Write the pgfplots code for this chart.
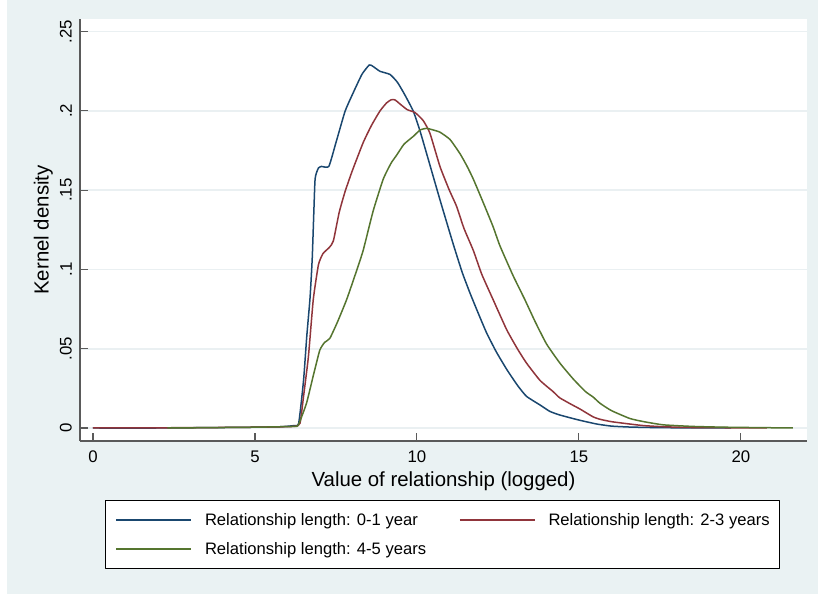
\documentclass[border=0pt]{standalone}
\usepackage{pgfplots}
\pgfplotsset{compat=1.18}
\usepackage{fontspec}
\setmainfont{Liberation Sans}
\definecolor{bgc}{HTML}{EAF2F3}
\definecolor{gridc}{HTML}{EAF0F2}
\definecolor{c1}{HTML}{1A476F}
\definecolor{c2}{HTML}{90353B}
\definecolor{c3}{HTML}{55752F}
\definecolor{axc}{HTML}{5A5A5A}
\begin{document}
\begin{tikzpicture}[x=1bp,y=1bp]
\useasboundingbox (0,0) rectangle (818,594);
\fill[bgc] (7,0) rectangle (818,594);
\begin{axis}[
 at={(80bp,153bp)}, anchor=south west,
 scale only axis, width=727bp, height=422bp,
 xmin=-0.4, xmax=22.04, ymin=-0.0082, ymax=0.258,
 axis x line*=bottom, axis y line*=left,
 axis line style={axc, line width=1.3bp, -},
 axis background/.style={fill=white},
 tick align=inside, major tick length=8bp, tick style={axc, line width=1.1bp},
 xtick={0,5,10,15,20}, ytick={0,0.05,0.1,0.15,0.2,0.25},
 xticklabels={0,5,10,15,20},
 yticklabels={0,.05,.1,.15,.2,.25},
 ymajorgrids, grid style={gridc, line width=1.6bp},
 tick label style={font=\fontsize{16.8bp}{20bp}\selectfont, inner sep=0pt},
 yticklabel style={rotate=90, anchor=south},
 yticklabel shift=8bp,
 xticklabel style={anchor=north},
 xticklabel shift=10bp,
 xlabel={Value of relationship (logged)},
 ylabel={Kernel density},
 label style={font=\fontsize{20.4bp}{24bp}\selectfont, inner sep=0pt},
 xlabel style={at={(axis description cs:0.5,-0.0735)}, anchor=north},
 ylabel style={at={(axis description cs:-0.0371,0.5)}, anchor=south, rotate=0},
 legend columns=2,
 legend cell align=left,
 legend style={at={(axis description cs:0.0344,-0.1398)}, anchor=north west,
   draw=black, line width=1bp, fill=white, inner xsep=10bp, inner ysep=10bp,
   font=\fontsize{16.6bp}{20bp}\selectfont,
   nodes={inner sep=0pt, text height=15bp, text depth=4bp},
   row sep=10bp, column sep=0pt},
 legend image code/.code={\draw[#1, line width=1.5bp] (0bp,0bp) -- (75bp,0bp);},
 /tikz/every odd column/.append style={column sep=13bp},
 /tikz/every even column/.append style={column sep=20bp},
 line join=round,
]
\addplot[c1, line width=1.5bp, smooth, tension=0.3] coordinates {
(0,0) (2,0) (4,0.0003) (5,0.0005) (5.8,0.0008) (6.2,0.0015) (6.35,0.003)
(6.5,0.03) (6.6,0.058) (6.7,0.082) (6.77,0.108) (6.85,0.155) (6.9,0.161) (6.96,0.164)
(7.05,0.165) (7.28,0.165) (7.5,0.180) (7.78,0.1997) (8.0,0.210) (8.3,0.223)
(8.53,0.229) (8.65,0.228) (8.86,0.225) (9.17,0.223) (9.4,0.218) (9.63,0.210)
(9.89,0.1997) (10.1,0.187) (10.3,0.173) (10.71,0.144) (11.12,0.116) (11.4,0.098)
(11.64,0.085) (11.9,0.072) (12.15,0.060) (12.45,0.048) (12.77,0.037) (13.1,0.027)
(13.38,0.020) (13.8,0.0145) (14.1,0.0105) (14.41,0.0082) (15.0,0.005) (15.55,0.0025)
(16.0,0.0012) (16.57,0.0006) (17.5,0.0002) (18.5,0.0001) (19.7,0)
};
\addlegendentry{\makebox[234bp][l]{Relationship length: 0-1 year}}
\addplot[c2, line width=1.5bp, smooth, tension=0.3] coordinates {
(0,0) (3,0.0002) (5,0.0005) (6.2,0.001) (6.39,0.003) (6.5,0.02) (6.65,0.045)
(6.8,0.081) (6.96,0.103) (7.1,0.110) (7.3,0.114) (7.42,0.118) (7.6,0.136)
(7.78,0.149) (8.0,0.162) (8.34,0.180) (8.6,0.191) (8.86,0.200) (9.06,0.205)
(9.2,0.207) (9.32,0.207) (9.5,0.204) (9.7,0.2008) (9.94,0.199) (10.19,0.194)
(10.4,0.186) (10.71,0.165) (11.0,0.150) (11.22,0.140) (11.45,0.126) (11.74,0.112)
(12.0,0.097) (12.35,0.081) (12.77,0.062) (13.1,0.050) (13.38,0.041) (13.8,0.030)
(14.2,0.023) (14.41,0.019) (14.8,0.0145) (15.03,0.012) (15.44,0.007) (15.65,0.0055)
(16.0,0.004) (16.57,0.0025) (17.0,0.0015) (17.6,0.0008) (18.5,0.0003) (20.8,0)
};
\addlegendentry{Relationship length: 2-3 years}
\addplot[c3, line width=1.5bp, smooth, tension=0.3] coordinates {
(2.3,0) (4,0.0003) (5,0.0005) (6.2,0.001) (6.34,0.002) (6.59,0.0155) (6.8,0.033)
(7.0,0.049) (7.15,0.054) (7.31,0.0565) (7.55,0.067) (7.83,0.081) (8.1,0.097)
(8.34,0.112) (8.65,0.137) (8.96,0.157) (9.2,0.167) (9.37,0.172) (9.6,0.179)
(9.89,0.184) (10.1,0.188) (10.3,0.189) (10.5,0.188) (10.71,0.1866) (11.02,0.182)
(11.33,0.173) (11.55,0.165) (11.74,0.157) (12.05,0.142) (12.35,0.127) (12.56,0.115)
(12.97,0.096) (13.33,0.081) (13.65,0.067) (14.0,0.053) (14.41,0.041) (14.82,0.031)
(15.2,0.023) (15.44,0.0195) (15.65,0.0156) (16.0,0.011) (16.57,0.006) (17.0,0.004)
(17.6,0.002) (18.5,0.001) (19.5,0.0005) (21.6,0)
};
\addlegendentry{Relationship length: 4-5 years}
\end{axis}
\end{tikzpicture}
\end{document}
